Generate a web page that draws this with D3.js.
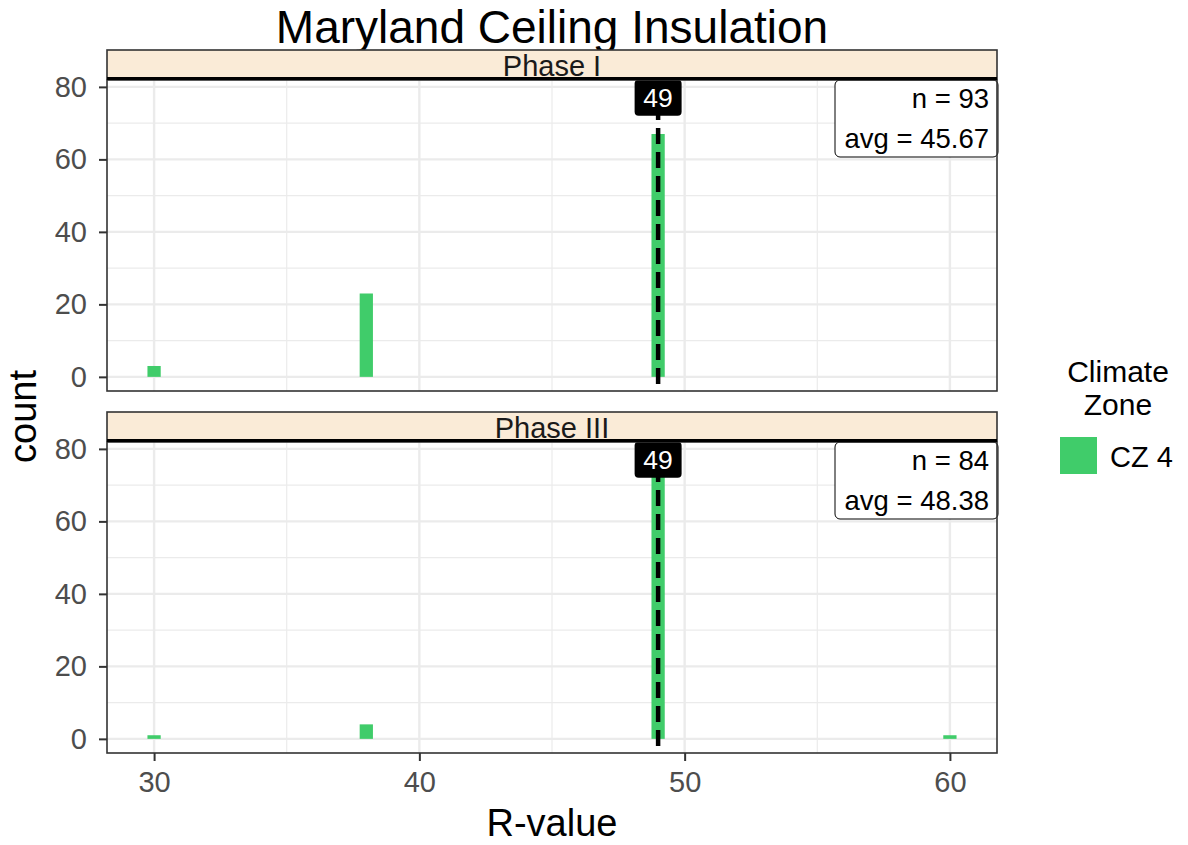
<!DOCTYPE html>
<html><head><meta charset="utf-8">
<script src="https://cdn.jsdelivr.net/npm/d3@7"></script>
<style>body{margin:0;background:#fff;}svg{display:block;font-family:"Liberation Sans",Arial,Helvetica,sans-serif;}</style>
</head><body>
<svg id="chart" width="1188" height="845"></svg>
<script>
const title = "Maryland Ceiling Insulation";
const phases = ["Phase I", "Phase III"];
const rValues = [30, 38, 49, 60];
const phase1Counts = [3, 23, 67, 0];
const phase3Counts = [1, 4, 78, 1];
const medians = [49, 49];
const nLabels = ["n = 93", "n = 84"];
const avgLabels = ["avg = 45.67", "avg = 48.38"];
const xTicks = [30, 40, 50, 60];
const xMinor = [35, 45, 55];
const yTicks = [0, 20, 40, 60, 80];
const yMinor = [10, 30, 50, 70];
const legendTitle = ["Climate", "Zone"];
const legendLabel = "CZ 4";
const binWidth = 0.5;

const seriesByPanel = [phase1Counts, phase3Counts];
const fill = "#40cc6a";
const svg = d3.select("#chart");

const L = 107, R = 997;
const panels = [{stripTop: 50, top: 80, bottom: 391}, {stripTop: 412, top: 442, bottom: 753}];
const maxCount = d3.max([...phase1Counts, ...phase3Counts]);
const span = d3.max(rValues) - d3.min(rValues) + binWidth;
const x = d3.scaleLinear().domain([d3.min(rValues) - binWidth/2 - 0.05*span, d3.max(rValues) + binWidth/2 + 0.05*span]).range([L, R]);

svg.append("text").attr("x", 552).attr("y", 43).attr("text-anchor", "middle")
  .attr("font-size", 46).attr("fill", "#000").text(title);

panels.forEach((p, i) => {
  const y = d3.scaleLinear().domain([-0.05*maxCount, maxCount*1.05]).range([p.bottom, p.top]);
  const g = svg.append("g");
  g.append("rect").attr("x", L).attr("y", p.top).attr("width", R-L).attr("height", p.bottom-p.top).attr("fill", "#fff");
  g.selectAll(".ym").data(yMinor).enter().append("line")
    .attr("x1", L).attr("x2", R).attr("y1", d => y(d)).attr("y2", d => y(d))
    .attr("stroke", "#ebebeb").attr("stroke-width", 1.2);
  g.selectAll(".xm").data(xMinor).enter().append("line")
    .attr("y1", p.top).attr("y2", p.bottom).attr("x1", d => x(d)).attr("x2", d => x(d))
    .attr("stroke", "#ebebeb").attr("stroke-width", 1.2);
  g.selectAll(".yM").data(yTicks).enter().append("line")
    .attr("x1", L).attr("x2", R).attr("y1", d => y(d)).attr("y2", d => y(d))
    .attr("stroke", "#ebebeb").attr("stroke-width", 2.4);
  g.selectAll(".xM").data(xTicks).enter().append("line")
    .attr("y1", p.top).attr("y2", p.bottom).attr("x1", d => x(d)).attr("x2", d => x(d))
    .attr("stroke", "#ebebeb").attr("stroke-width", 2.4);
  const data = rValues.map((v, j) => ({v, c: seriesByPanel[i][j]})).filter(d => d.c > 0);
  g.selectAll(".bar").data(data).enter().append("rect")
    .attr("x", d => x(d.v - binWidth/2)).attr("width", d => x(d.v + binWidth/2) - x(d.v - binWidth/2))
    .attr("y", d => y(d.c)).attr("height", d => y(0) - y(d.c))
    .attr("fill", fill);
  g.append("line").attr("x1", x(medians[i])).attr("x2", x(medians[i]))
    .attr("y1", p.top).attr("y2", p.bottom)
    .attr("stroke", "#000").attr("stroke-width", 4.5).attr("stroke-dasharray", "16,8");
  const lx = x(medians[i]), ly = y(77);
  g.append("rect").attr("x", lx - 23.5).attr("y", ly - 18).attr("width", 47).attr("height", 36)
    .attr("rx", 4).attr("fill", "#000");
  g.append("text").attr("x", lx).attr("y", ly + 9.5).attr("text-anchor", "middle")
    .attr("font-size", 26.5).attr("fill", "#fff").text(String(medians[i]));
  g.append("rect").attr("x", 835).attr("y", p.top).attr("width", 163).attr("height", 77)
    .attr("rx", 5).attr("fill", "#fff").attr("stroke", "#000").attr("stroke-width", 1);
  g.append("text").attr("x", 989).attr("y", p.top + 28).attr("text-anchor", "end")
    .attr("font-size", 27.5).attr("fill", "#000").text(nLabels[i]);
  g.append("text").attr("x", 989).attr("y", p.top + 68).attr("text-anchor", "end")
    .attr("font-size", 27.5).attr("fill", "#000").text(avgLabels[i]);
  g.append("rect").attr("x", L).attr("y", p.top).attr("width", R-L).attr("height", p.bottom-p.top)
    .attr("fill", "none").attr("stroke", "#333").attr("stroke-width", 1.6);
  g.append("rect").attr("x", L).attr("y", p.stripTop).attr("width", R-L).attr("height", p.top - p.stripTop - 1)
    .attr("fill", "#faebd7").attr("stroke", "#333").attr("stroke-width", 1.6);
  g.append("line").attr("x1", L).attr("x2", R).attr("y1", p.top - 1.5).attr("y2", p.top - 1.5)
    .attr("stroke", "#000").attr("stroke-width", 3);
  g.append("text").attr("x", (L+R)/2).attr("y", p.stripTop + 26).attr("text-anchor", "middle")
    .attr("font-size", 29).attr("fill", "#1a1a1a").text(phases[i]);
  const ya = d3.axisLeft(y).tickValues(yTicks).tickSize(8).tickPadding(12);
  const yg = g.append("g").attr("transform", `translate(${L},0)`).call(ya);
  yg.select(".domain").remove();
  yg.selectAll("line").attr("stroke", "#333").attr("stroke-width", 2);
  yg.selectAll("text").attr("font-size", 29).attr("fill", "#4d4d4d").attr("font-family", "Liberation Sans, Arial, sans-serif");
});

const xa = d3.axisBottom(x).tickValues(xTicks).tickSize(8).tickPadding(10);
const xg = svg.append("g").attr("transform", `translate(0,${panels[1].bottom})`).call(xa);
xg.select(".domain").remove();
xg.selectAll("line").attr("stroke", "#333").attr("stroke-width", 2);
xg.selectAll("text").attr("font-size", 29).attr("fill", "#4d4d4d").attr("font-family", "Liberation Sans, Arial, sans-serif");

svg.append("text").attr("x", (L+R)/2).attr("y", 836).attr("text-anchor", "middle")
  .attr("font-size", 38).attr("fill", "#000").text("R-value");
svg.append("text").attr("transform", `translate(36,${(panels[0].top + panels[1].bottom)/2}) rotate(-90)`)
  .attr("text-anchor", "middle").attr("font-size", 38).attr("fill", "#000").text("count");

legendTitle.forEach((t, k) => {
  svg.append("text").attr("x", 1118).attr("y", 382 + k*33).attr("text-anchor", "middle")
    .attr("font-size", 30).attr("fill", "#000").text(t);
});
svg.append("rect").attr("x", 1060).attr("y", 437).attr("width", 37).attr("height", 37).attr("fill", fill);
svg.append("text").attr("x", 1110).attr("y", 467).attr("font-size", 29).attr("fill", "#000").text(legendLabel);
</script>
</body></html>
